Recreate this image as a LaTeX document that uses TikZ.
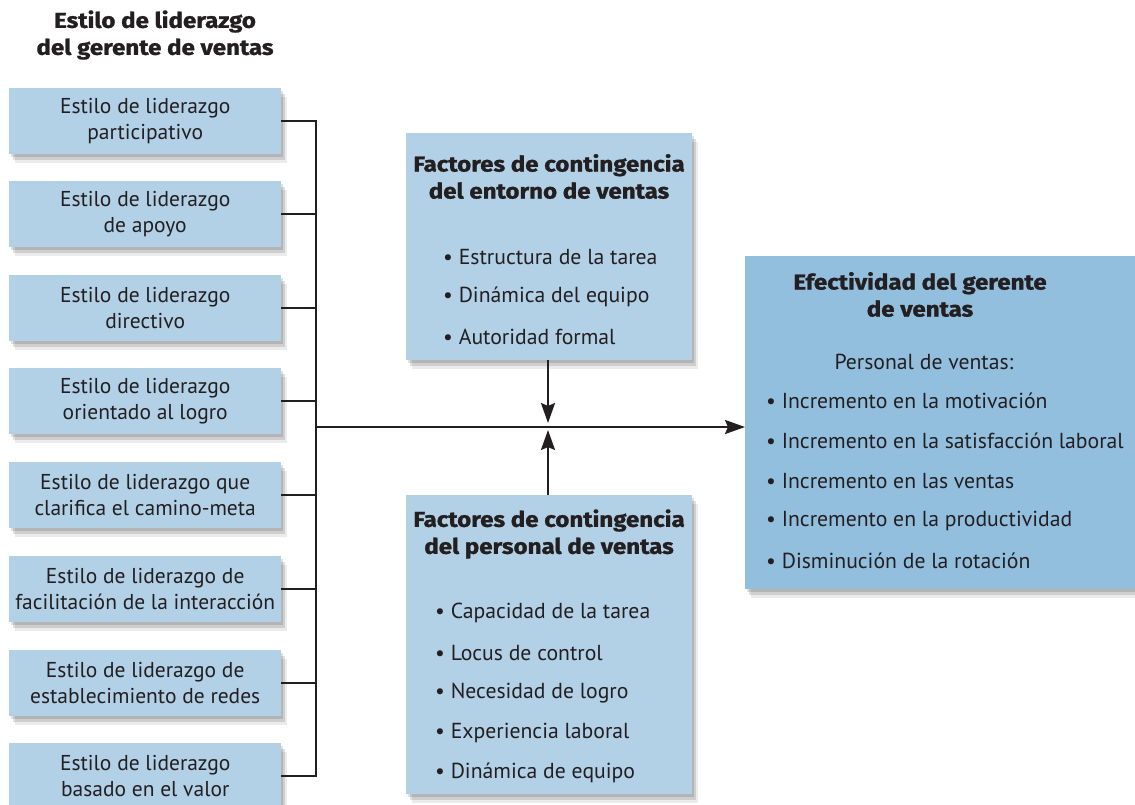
\documentclass[tikz,border=0pt]{standalone}
\usepackage{fontspec}
\setmainfont{PT Sans}
\newfontfamily\ttlfont{Fira Sans}[BoldFeatures={FakeBold=1.2,FakeStretch=1.12}]
\usetikzlibrary{arrows.meta,shadows,calc}
\definecolor{lblue}{HTML}{B2D1E7}
\definecolor{rblue}{HTML}{93BFDF}
\definecolor{ink}{HTML}{231F20}
\tikzset{
  shadowed/.style={
    drop shadow={shadow xshift=2pt,shadow yshift=-3pt,opacity=0.12,fill=black},
    drop shadow={shadow xshift=4pt,shadow yshift=-6pt,opacity=0.12,fill=black},
    drop shadow={shadow xshift=6pt,shadow yshift=-9pt,opacity=0.08,fill=black}},
  lbox/.style={fill=lblue,draw=none,shadowed,minimum width=272pt,minimum height=66pt,anchor=north west,inner sep=0pt,align=center,font=\fontsize{21.5}{26}\selectfont,text=ink},
  bigbox/.style={draw=none,shadowed,anchor=north west,inner sep=0pt},
  ttl/.style={font=\ttlfont\fontsize{21.5}{27}\selectfont\bfseries,text=ink,align=center,inner sep=0pt},
  itm/.style={font=\fontsize{21.7}{24}\selectfont,text=ink,anchor=west,inner sep=0pt},
  conn/.style={line width=2.3pt,draw=ink},
  arr/.style={line width=2.3pt,draw=ink,-{Stealth[length=20pt,width=14pt,inset=3pt]}}
}
\begin{document}
\begin{tikzpicture}[x=1pt,y=-1pt]
\useasboundingbox (0,0) rectangle (1135,804);
\fill[white] (0,0) rectangle (1135,804);
% heading
\node[ttl] (head) at (155,35) {Estilo de liderazgo\\del gerente de ventas};
% left boxes
\node[lbox] (l1) at (9,88)  {Estilo de liderazgo\\participativo};
\node[lbox] (l2) at (9,181) {Estilo de liderazgo\\de apoyo};
\node[lbox] (l3) at (9,275) {Estilo de liderazgo\\directivo};
\node[lbox] (l4) at (9,368) {Estilo de liderazgo\\orientado al logro};
\node[lbox] (l5) at (9,462) {Estilo de liderazgo que\\clarifica el camino-meta};
\node[lbox] (l6) at (9,556) {Estilo de liderazgo de\\facilitación de la interacción};
\node[lbox] (l7) at (9,650) {Estilo de liderazgo de\\establecimiento de redes};
\node[lbox] (l8) at (9,743) {Estilo de liderazgo\\basado en el valor};
% central boxes
\node[bigbox,fill=lblue,minimum width=286pt,minimum height=227pt] (top) at (406,133) {};
\node[ttl] (topt) at (549,176.5) {Factores de contingencia\\del entorno de ventas};
\node[itm] (t1) at (443,257) {\textbullet\ Estructura de la tarea};
\node[itm] (t2) at (443,297) {\textbullet\ Dinámica del equipo};
\node[itm] (t3) at (443,337) {\textbullet\ Autoridad formal};
\node[bigbox,fill=lblue,minimum width=286pt,minimum height=299pt] (bot) at (406,495) {};
\node[ttl] (bott) at (549,534) {Factores de contingencia\\del personal de ventas};
\node[itm] (b1) at (435,613) {\textbullet\ Capacidad de la tarea};
\node[itm] (b2) at (435,653) {\textbullet\ Locus de control};
\node[itm] (b3) at (435,693) {\textbullet\ Necesidad de logro};
\node[itm] (b4) at (435,733) {\textbullet\ Experiencia laboral};
\node[itm] (b5) at (435,773) {\textbullet\ Dinámica de equipo};
% right box
\node[bigbox,fill=rblue,minimum width=400pt,minimum height=333pt] (r) at (745,256) {};
\node[ttl] (rt) at (920,294.5) {Efectividad del gerente\\de ventas};
\node[itm,anchor=center] (rp) at (924,362) {Personal de ventas:};
\node[itm] (r1) at (766,401) {\textbullet\ Incremento en la motivación};
\node[itm] (r2) at (766,441) {\textbullet\ Incremento en la satisfacción laboral};
\node[itm] (r3) at (766,481) {\textbullet\ Incremento en las ventas};
\node[itm] (r4) at (766,521) {\textbullet\ Incremento en la productividad};
\node[itm] (r5) at (766,561) {\textbullet\ Disminución de la rotación};
% connectors
\coordinate (bus) at (316,0);
\coordinate (hub) at (548,427);
\foreach \i in {1,...,8} {\draw[conn] (l\i.east) -- (l\i.east -| bus);}
\draw[conn,line cap=rect] (l1.east -| bus) -- (l8.east -| bus);
\draw[arr] (hub -| bus) -- (hub -| r.west);
\draw[arr] (top.south -| hub) -- ([yshift=4pt]hub);
\draw[arr] (bot.north -| hub) -- ([yshift=-3pt]hub);
\end{tikzpicture}
\end{document}
